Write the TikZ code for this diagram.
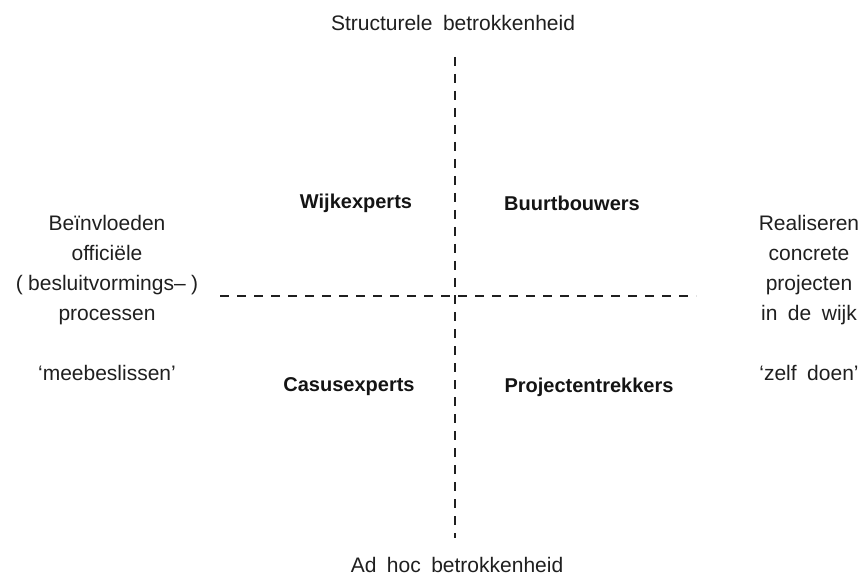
\documentclass[tikz,border=0pt]{standalone}
\usepackage{fontspec}
\setmainfont{Liberation Sans}[WordSpace={1.8}]
\begin{document}
\begin{tikzpicture}[x=1pt,y=-1pt,
  txt/.style={font=\fontsize{21}{30}\selectfont, text=black!88, inner sep=0pt, align=center},
  lbl/.style={font=\bfseries\fontsize{20}{24}\selectfont, text=black!92, inner sep=0pt},
  axisline/.style={line width=2pt, dash pattern=on 9pt off 8pt, draw=black!88}]
\useasboundingbox (0,0) rectangle (865,580);
\node[txt] (top) at (453,23) {Structurele betrokkenheid};
\node[txt] (bot) at (457,565) {Ad hoc betrokkenheid};
\coordinate (vt) at (455,57);
\coordinate (vb) at (455,538);
\coordinate (hl) at (220,296);
\coordinate (hr) at (696,296);
\draw[axisline] (vt) -- (vb);
\draw[axisline] (hl) -- (hr);
\node[lbl] (wijk) at (356,203) {Wijkexperts};
\node[lbl] (buurt) at (572,203) {Buurtbouwers};
\node[lbl] (casus) at (349,387) {Casusexperts};
\node[lbl] (proj) at (589,387) {Projectentrekkers};
\node[txt, anchor=north] (left) at (107,215) {Beïnvloeden\\officiële\\(\hspace{0.25em}besluitvormings–\hspace{0.25em})\\processen\\[30pt]‘meebeslissen’};
\node[txt, anchor=north] (right) at (809,215) {Realiseren\\concrete\\projecten\\in de wijk\\[30pt]‘zelf doen’};
\end{tikzpicture}
\end{document}
